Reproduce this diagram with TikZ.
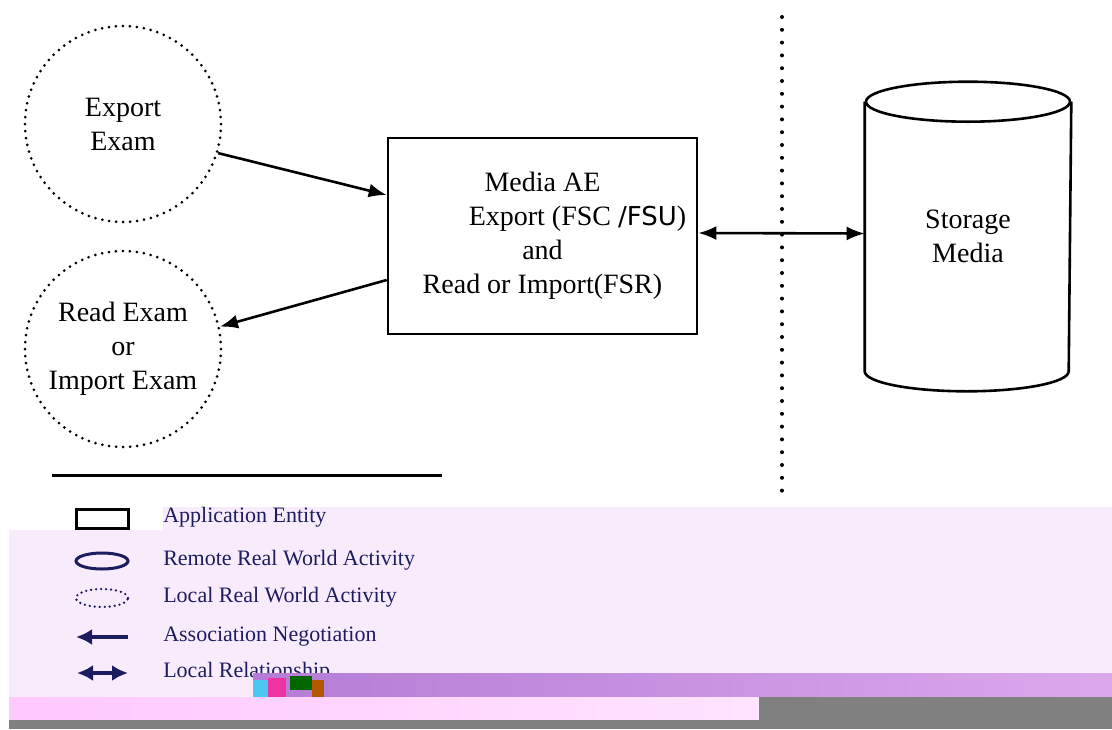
\documentclass[tikz,border=0pt]{standalone}
\usepackage{fontspec}
\setmainfont{Liberation Serif}
\newfontfamily\fsufont{DejaVu Sans}
\usetikzlibrary{arrows.meta,calc}

\definecolor{legendblue}{HTML}{1C1C5E}
\definecolor{bgpink}{HTML}{F8ECFC}
\definecolor{bandpurple}{HTML}{B47CD6}
\definecolor{bandlilac}{HTML}{DCA8EC}
\definecolor{bandpink}{HTML}{FFC8FF}
\definecolor{bandgray}{HTML}{808080}

\tikzset{
  activity/.style={circle, draw, minimum size=196pt, inner sep=0pt, align=center,
    line width=3pt, line cap=round, dash pattern=on 0pt off 7pt},
  legend/.style={anchor=west, inner sep=0pt, text=legendblue, font=\fontsize{22}{26}\selectfont},
}

\begin{document}
\begin{tikzpicture}[x=1pt, y=-1pt, >={Latex[length=18pt,width=14pt]}, line width=2.6pt,
  font=\fontsize{28}{34}\selectfont]
\useasboundingbox (0,0) rectangle (1112,729);
\fill[bgpink] (163,507) -- (1112,507) -- (1112,697) -- (9,697) -- (9,530) -- (163,530) -- cycle;

\node[activity] (exp) at (123,124) {Export\\Exam};
\node[activity] (imp) at (123,349) {Read Exam\\or\\Import Exam};

\node[draw, minimum width=309pt, minimum height=196pt, align=center] (ae) at (542.5,236)
  {Media AE\\\hspace*{70pt}Export (FSC {\fsufont\fontsize{26}{34}\selectfont/FSU})\\and\\Read or Import(FSR)};

% storage drum
\node[minimum width=204pt, minimum height=307pt, align=center] (media) at (968,236.5) {Storage\\Media};
\draw ($(media.north)+(0,20)$) ellipse [x radius=102pt, y radius=20pt];
\draw ($(media.north west)+(0,20)$) -- ($(media.south west)+(0,-20)$)
  arc [start angle=180, end angle=360, x radius=102pt, y radius=20pt]
  -- ($(media.north east)+(0,20)$);

\draw[->] (exp.-17) -- ($(ae.west)+(0,-41)$);
\draw[->] ($(ae.west)+(0,44)$) -- (imp.13);
\draw[<->] ($(ae.east)+(0,-3)$) -- ($(media.west)+(0,-3)$);

\draw[line width=4pt, line cap=round, dash pattern=on 0pt off 12.8pt] (782,17) -- (782,492);
\draw[line width=3pt] (52,475) -- (442,475);

% legend
\draw[line width=3pt] (76,509) rectangle (128,528);
\node[legend] (l1) at (162,517) {Application Entity};
\draw[legendblue, line width=3pt] (102,561) ellipse [x radius=26pt, y radius=8pt];
\node[legend] (l2) at (162,560) {Remote Real World Activity};
\draw[legendblue, line width=2.6pt, line cap=round, dash pattern=on 0pt off 5pt] (102,598) ellipse [x radius=26pt, y radius=9pt];
\node[legend] (l3) at (162,597) {Local Real World Activity};
\draw[legendblue, line width=3.5pt, <-, >={Latex[length=16pt,width=16pt]}] (76,637) -- (128,637);
\node[legend] (l4) at (162,637) {Association Negotiation};
\draw[legendblue, line width=3.5pt, <->, >={Latex[length=16pt,width=16pt]}] (77,673) -- (128,673);
\node[legend] (l5) at (162,672) {Local Relationship};

% broken strips at the bottom
\shade[left color=bandpurple, right color=bandlilac] (253,673) rectangle (1112,697);
\fill[cyan!70] (253,680) rectangle (268,697);
\fill[magenta!80] (268,678) rectangle (286,697);
\fill[green!40!black] (290,676) rectangle (312,690);
\fill[orange!70!black] (312,680) rectangle (324,697);
\shade[left color=bandpink, right color=bandpink!50!white] (9,697) rectangle (759,720);
\fill[bandgray] (759,697) rectangle (1112,729);
\fill[bandgray] (9,720) rectangle (759,729);
\end{tikzpicture}
\end{document}
